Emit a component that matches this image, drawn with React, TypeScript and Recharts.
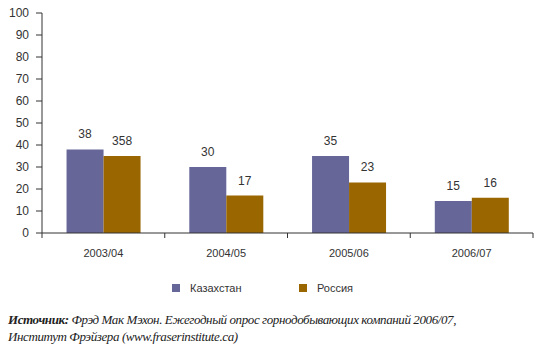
import React from "react";
import { BarChart, Bar, XAxis, YAxis, LabelList } from "recharts";

const categories = ["2003/04", "2004/05", "2005/06", "2006/07"];
const kazValues = [38, 30, 35, 14.5];
const rusValues = [35, 17, 23, 16];
const kazLabels = ["38", "30", "35", "15"];
const rusLabels = ["358", "17", "23", "16"];
const yTicks = [0, 10, 20, 30, 40, 50, 60, 70, 80, 90, 100];
const seriesNames = ["Казахстан", "Россия"];
const KAZ = "#666699";
const RUS = "#996600";

const data = categories.map((c, i) => ({
  cat: c,
  kaz: kazValues[i],
  rus: rusValues[i],
  kazLabel: kazLabels[i],
  rusLabel: rusLabels[i],
}));

const FONT = "'Liberation Sans', Arial, sans-serif";

const CatTick = (props: any) => {
  const { x, y, payload, index } = props;
  const half = payload && payload.offset ? payload.offset : 61.4;
  const axisY = y - 8;
  return (
    <g>
      <line x1={x - half} y1={axisY} x2={x - half} y2={axisY + 5} stroke="#333" />
      {index === categories.length - 1 && (
        <line x1={x + half} y1={axisY} x2={x + half} y2={axisY + 5} stroke="#333" />
      )}
      <text x={x} y={axisY + 24} textAnchor="middle" fontSize={11} fill="#333" fontFamily={FONT}>
        {payload.value}
      </text>
    </g>
  );
};

export default function App() {
  return (
    <div style={{ position: "absolute", left: 0, top: 0, width: 542, height: 354, background: "#fff" }}>
      <BarChart
        width={542}
        height={354}
        data={data}
        margin={{ top: 13, right: 9, left: 0, bottom: 91 }}
        barCategoryGap="20%"
        barGap={0}
      >
        <XAxis
          dataKey="cat"
          tickLine={false}
          axisLine={{ stroke: "#333" }}
          tick={<CatTick />}
          interval={0}
          height={30}
        />
        <YAxis
          domain={[0, 100]}
          ticks={yTicks}
          interval={0}
          width={42}
          tickSize={6}
          tickMargin={7}
          axisLine={{ stroke: "#333" }}
          tickLine={{ stroke: "#333" }}
          tick={{ fontSize: 12, fill: "#333", fontFamily: FONT }}
        />
        <Bar dataKey="kaz" fill={KAZ} isAnimationActive={false}>
          <LabelList dataKey="kazLabel" position="top" offset={11} fontSize={12} fill="#333" fontFamily={FONT} />
        </Bar>
        <Bar dataKey="rus" fill={RUS} isAnimationActive={false}>
          <LabelList dataKey="rusLabel" position="top" offset={11} fontSize={12} fill="#333" fontFamily={FONT} />
        </Bar>
      </BarChart>
      <div style={{ position: "absolute", left: 172, top: 282, fontFamily: FONT, fontSize: 11, color: "#333", display: "flex", alignItems: "center" }}>
        <span style={{ width: 8, height: 8, background: KAZ, display: "inline-block" }} />
        <span style={{ marginLeft: 10, width: 109 }}>{seriesNames[0]}</span>
        <span style={{ width: 8, height: 8, background: RUS, display: "inline-block" }} />
        <span style={{ marginLeft: 10 }}>{seriesNames[1]}</span>
      </div>
      <div style={{ position: "absolute", left: 8, top: 311, fontFamily: "'Liberation Serif', 'Times New Roman', serif", fontStyle: "italic", fontSize: 13, lineHeight: "17px", letterSpacing: "-0.4px", color: "#222", whiteSpace: "nowrap" }}>
        <div><b>Источник:</b> Фрэд Мак Мэхон. Ежегодный опрос горнодобывающих компаний 2006/07,</div>
        <div>Институт Фрэйзера (www.fraserinstitute.ca)</div>
      </div>
    </div>
  );
}
